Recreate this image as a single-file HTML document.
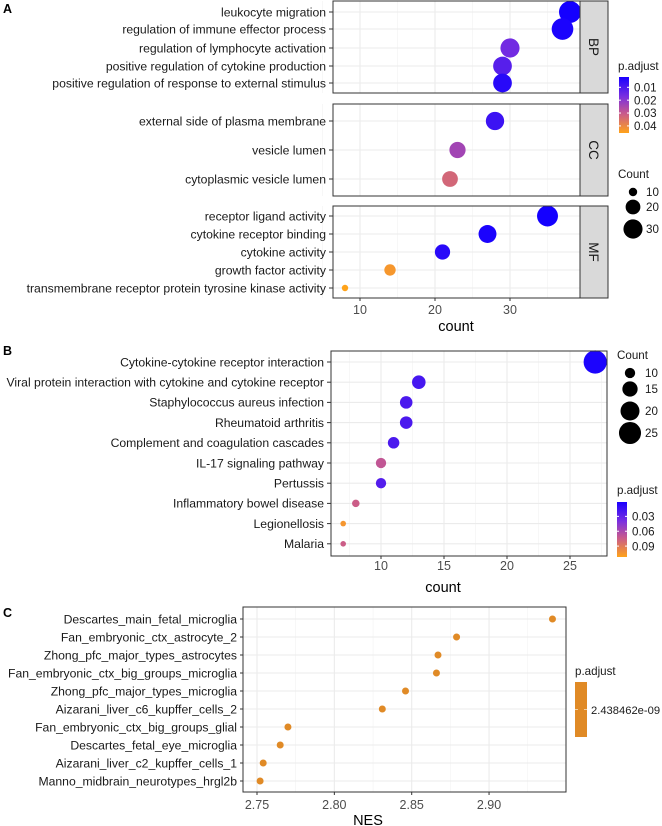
<!DOCTYPE html>
<html><head><meta charset="utf-8"><style>
body{margin:0;background:#fff}
svg{display:block;font-family:"Liberation Sans",Arial,sans-serif}
</style></head><body>
<svg id="s" width="662" height="826" viewBox="0 0 662 826" xmlns="http://www.w3.org/2000/svg">
<defs>
<linearGradient id="gA" x1="0" y1="0" x2="0" y2="1">
<stop offset="0" stop-color="#1a00ff"/><stop offset="0.35" stop-color="#7a2fe0"/><stop offset="0.65" stop-color="#c85a8c"/><stop offset="1" stop-color="#ffa31a"/>
</linearGradient>
</defs>
</svg>
<script>
// Panel A data
const aBPTerms=["leukocyte migration","regulation of immune effector process","regulation of lymphocyte activation","positive regulation of cytokine production","positive regulation of response to external stimulus"];
const aBPCount=[38,37,30,29,29];
const aBPP=[0.002,0.003,0.016,0.012,0.005];
const aCCTerms=["external side of plasma membrane","vesicle lumen","cytoplasmic vesicle lumen"];
const aCCCount=[28,23,22];
const aCCP=[0.008,0.024,0.033];
const aMFTerms=["receptor ligand activity","cytokine receptor binding","cytokine activity","growth factor activity","transmembrane receptor protein tyrosine kinase activity"];
const aMFCount=[35,27,21,14,8];
const aMFP=[0.002,0.003,0.005,0.043,0.046];
const aXTicks=[10,20,30];
const aPTicks=[0.01,0.02,0.03,0.04];
const aCountLegend=[10,20,30];
// Panel B data
const bTerms=["Cytokine-cytokine receptor interaction","Viral protein interaction with cytokine and cytokine receptor","Staphylococcus aureus infection","Rheumatoid arthritis","Complement and coagulation cascades","IL-17 signaling pathway","Pertussis","Inflammatory bowel disease","Legionellosis","Malaria"];
const bCount=[27,13,12,12,11,10,10,8,7,7];
const bP=[0.004,0.02,0.022,0.022,0.022,0.07,0.025,0.075,0.105,0.075];
const bXTicks=[10,15,20,25];
const bPTicks=[0.03,0.06,0.09];
const bCountLegend=[10,15,20,25];
// Panel C data
const cTerms=["Descartes_main_fetal_microglia","Fan_embryonic_ctx_astrocyte_2","Zhong_pfc_major_types_astrocytes","Fan_embryonic_ctx_big_groups_microglia","Zhong_pfc_major_types_microglia","Aizarani_liver_c6_kupffer_cells_2","Fan_embryonic_ctx_big_groups_glial","Descartes_fetal_eye_microglia","Aizarani_liver_c2_kupffer_cells_1","Manno_midbrain_neurotypes_hrgl2b"];
const cNES=[2.941,2.879,2.867,2.866,2.846,2.831,2.770,2.765,2.754,2.752];
const cXTicks=[2.75,2.80,2.85,2.90];

const svg=document.getElementById('s');
const NS="http://www.w3.org/2000/svg";
const LF=12.2, TF=12.5, GF=11.6, AF=14.5;
function mk(tag,attrs,parent){const e=document.createElementNS(NS,tag);for(const k in attrs)e.setAttribute(k,attrs[k]);(parent||svg).appendChild(e);return e;}
function txt(x,y,s,size,anchor,fill,parent){const t=mk('text',{x:x,y:y,'font-size':size,'text-anchor':anchor||'start',fill:fill||'#1a1a1a'},parent);t.textContent=s;return t;}
const stops=[[0,[20,0,255]],[0.35,[122,47,224]],[0.65,[200,90,140]],[1,[255,163,26]]];
function col(f){f=Math.max(0,Math.min(1,f));for(let i=1;i<stops.length;i++){if(f<=stops[i][0]){const a=stops[i-1],b=stops[i];const t=(f-a[0])/(b[0]-a[0]);const c=a[1].map((v,j)=>Math.round(v+(b[1][j]-v)*t));return `rgb(${c})`;}}return 'rgb(255,163,26)';}
function rad(c,cmin,cmax,rmin,rmax){const t=(c-cmin)/(cmax-cmin);return Math.sqrt(rmin*rmin+t*(rmax*rmax-rmin*rmin));}

// ---------- Panel A ----------
const gA=mk('g',{});
txt(3,13,'A',12.5,'start','#000',gA).setAttribute('font-weight','bold');
const axL=333,axR=580;
const xA=v=>360+(v-10)*7.5;
const pA=p=>(p-0.002)/(0.0455-0.002);
const rA=c=>rad(c,8,38,3.2,11);
const facets=[
 {name:'BP',terms:aBPTerms,cnt:aBPCount,p:aBPP,top:1,bot:93,rows:[12,29,48,66,83]},
 {name:'CC',terms:aCCTerms,cnt:aCCCount,p:aCCP,top:104,bot:196,rows:[121,150,179]},
 {name:'MF',terms:aMFTerms,cnt:aMFCount,p:aMFP,top:206,bot:298,rows:[216,234,252,270,288]}];
facets.forEach(f=>{
 const g=mk('g',{},gA);
 mk('rect',{x:axL,y:f.top,width:axR-axL,height:f.bot-f.top,fill:'#fff'},g);
 [5,15,25,35].forEach(v=>mk('line',{x1:xA(v),x2:xA(v),y1:f.top,y2:f.bot,stroke:'#f2f2f2','stroke-width':0.6},g));
 aXTicks.forEach(v=>mk('line',{x1:xA(v),x2:xA(v),y1:f.top,y2:f.bot,stroke:'#ebebeb','stroke-width':1.1},g));
 f.rows.forEach(y=>mk('line',{x1:axL,x2:axR,y1:y,y2:y,stroke:'#ebebeb','stroke-width':1.1},g));
 f.terms.forEach((t,i)=>{
  const y=f.rows[i];
  const l=txt(326,y+4.3,t,LF,'end','#1a1a1a',g);
  mk('line',{x1:329,x2:axL,y1:y,y2:y,stroke:'#333','stroke-width':1},g);
  const c=mk('circle',{cx:xA(f.cnt[i]),cy:y,r:rA(f.cnt[i]),fill:col(pA(f.p[i]))},g);
  
  
 });
 mk('rect',{x:axL,y:f.top,width:axR-axL,height:f.bot-f.top,fill:'none',stroke:'#333','stroke-width':1},g);
 mk('rect',{x:axR,y:f.top,width:28,height:f.bot-f.top,fill:'#d9d9d9',stroke:'#333','stroke-width':1},g);
 const st=txt(0,0,f.name,13.5,'middle','#1a1a1a',g);
 st.setAttribute('transform',`translate(${axR+9},${(f.top+f.bot)/2}) rotate(90)`);
 
});
aXTicks.forEach(v=>{mk('line',{x1:xA(v),x2:xA(v),y1:298,y2:301,stroke:'#333'},gA);txt(xA(v),314,String(v),TF,'middle','#4d4d4d',gA);});
const atA=txt(456,331,'count',AF,'middle','#000',gA);
// legend A
const lgA=mk('g',{},gA);
txt(618,70,'p.adjust',GF,'start','#1a1a1a',lgA);
mk('rect',{x:619,y:77,width:10,height:56,fill:'url(#gA)'},lgA);
aPTicks.forEach(v=>{const y=77+(v-0.002)/(0.0435)*56;mk('line',{x1:619,x2:621,y1:y,y2:y,stroke:'#fff'},lgA);mk('line',{x1:627,x2:629,y1:y,y2:y,stroke:'#fff'},lgA);txt(634,y+4.2,v.toFixed(2),GF,'start','#1a1a1a',lgA);});
txt(618,178,'Count',GF,'start','#1a1a1a',lgA);
const aLY=[192,207,229];
aCountLegend.forEach((v,i)=>{mk('circle',{cx:633,cy:aLY[i],r:rA(v),fill:'#000'},lgA);txt(646,aLY[i]+4.2,String(v),GF,'start','#1a1a1a',lgA);});

// ---------- Panel B ----------
const gB=mk('g',{});
txt(3,355,'B',12.5,'start','#000',gB).setAttribute('font-weight','bold');
const bL=331,bR=607,bT=351,bB=556;
const xB=v=>381+(v-10)*12.6;
const pB=p=>(p-0.001)/(0.112-0.001);
const rB=c=>rad(c,7,27,2.8,11.6);
const bRows=bTerms.map((t,i)=>362+i*20.2);
mk('rect',{x:bL,y:bT,width:bR-bL,height:bB-bT,fill:'#fff'},gB);
[7.5,12.5,17.5,22.5,27.5].forEach(v=>mk('line',{x1:xB(v),x2:xB(v),y1:bT,y2:bB,stroke:'#f2f2f2','stroke-width':0.6},gB));
bXTicks.forEach(v=>mk('line',{x1:xB(v),x2:xB(v),y1:bT,y2:bB,stroke:'#ebebeb','stroke-width':1.1},gB));
bRows.forEach(y=>mk('line',{x1:bL,x2:bR,y1:y,y2:y,stroke:'#ebebeb','stroke-width':1.1},gB));
bTerms.forEach((t,i)=>{
 const y=bRows[i];
 const l=txt(324,y+4.3,t,LF,'end','#1a1a1a',gB);
 mk('line',{x1:327,x2:bL,y1:y,y2:y,stroke:'#333'},gB);
 const c=mk('circle',{cx:xB(bCount[i]),cy:y,r:rB(bCount[i]),fill:col(pB(bP[i]))},gB);
 
 
});
mk('rect',{x:bL,y:bT,width:bR-bL,height:bB-bT,fill:'none',stroke:'#333'},gB);
bXTicks.forEach(v=>{mk('line',{x1:xB(v),x2:xB(v),y1:bB,y2:bB+3,stroke:'#333'},gB);txt(xB(v),570,String(v),TF,'middle','#4d4d4d',gB);});
const atB=txt(443,592,'count',AF,'middle','#000',gB);
const lgB=mk('g',{},gB);
txt(617,359,'Count',GF,'start','#1a1a1a',lgB);
const bLY=[373,389,411,433];
bCountLegend.forEach((v,i)=>{mk('circle',{cx:630,cy:bLY[i],r:rB(v),fill:'#000'},lgB);txt(645,bLY[i]+4.2,String(v),GF,'start','#1a1a1a',lgB);});
txt(617,494,'p.adjust',GF,'start','#1a1a1a',lgB);
mk('rect',{x:617,y:502,width:10,height:55,fill:'url(#gA)'},lgB);
bPTicks.forEach(v=>{const y=502+(v-0.001)/(0.111)*55;mk('line',{x1:617,x2:619,y1:y,y2:y,stroke:'#fff'},lgB);mk('line',{x1:625,x2:627,y1:y,y2:y,stroke:'#fff'},lgB);txt(632,y+4.2,v.toFixed(2),GF,'start','#1a1a1a',lgB);});

// ---------- Panel C ----------
const gC=mk('g',{});
txt(3,617,'C',12.5,'start','#000',gC).setAttribute('font-weight','bold');
const cL=243,cR=566,cT=607,cB=792;
const xC=v=>257+(v-2.75)*1547;
const cRows=cTerms.map((t,i)=>619+i*18);
mk('rect',{x:cL,y:cT,width:cR-cL,height:cB-cT,fill:'#fff'},gC);
[2.775,2.825,2.875,2.925].forEach(v=>mk('line',{x1:xC(v),x2:xC(v),y1:cT,y2:cB,stroke:'#f2f2f2','stroke-width':0.6},gC));
cXTicks.forEach(v=>mk('line',{x1:xC(v),x2:xC(v),y1:cT,y2:cB,stroke:'#ebebeb','stroke-width':1.1},gC));
cRows.forEach(y=>mk('line',{x1:cL,x2:cR,y1:y,y2:y,stroke:'#ebebeb','stroke-width':1.1},gC));
cTerms.forEach((t,i)=>{
 const y=cRows[i];
 const l=txt(237,y+4.3,t,LF,'end','#1a1a1a',gC);
 mk('line',{x1:240,x2:cL,y1:y,y2:y,stroke:'#333'},gC);
 const c=mk('circle',{cx:xC(cNES[i]),cy:y,r:3.5,fill:'#e08a26'},gC);
 
 
});
mk('rect',{x:cL,y:cT,width:cR-cL,height:cB-cT,fill:'none',stroke:'#333'},gC);
cXTicks.forEach(v=>{mk('line',{x1:xC(v),x2:xC(v),y1:cB,y2:cB+3,stroke:'#333'},gC);txt(xC(v),809,v.toFixed(2),TF,'middle','#4d4d4d',gC);});
const atC=txt(368,825,'NES',AF,'middle','#000',gC);
const lgC=mk('g',{},gC);
txt(575,675,'p.adjust',GF,'start','#1a1a1a',lgC);
mk('rect',{x:575,y:682,width:12,height:55,fill:'#e08a26'},lgC);
mk('line',{x1:575,x2:578,y1:709.5,y2:709.5,stroke:'#f4d0a0'},lgC);
mk('line',{x1:584,x2:587,y1:709.5,y2:709.5,stroke:'#f4d0a0'},lgC);
txt(591,714,'2.438462e-09',11.2,'start','#1a1a1a',lgC);
</script>
</body></html>
